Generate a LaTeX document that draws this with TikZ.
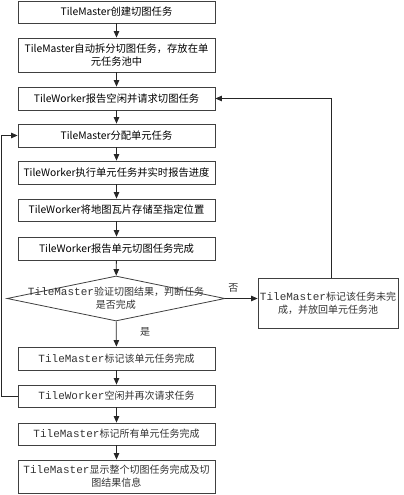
\documentclass[tikz,border=0pt]{standalone}
\usepackage{fontspec}
\newfontfamily\cjk{Noto Sans CJK SC}
\newfontfamily\lmono{Liberation Mono}
\usetikzlibrary{arrows.meta,shapes.geometric}
\tikzset{
  box/.style={draw=black!75, line width=0.8pt, minimum width=197pt, inner sep=1pt, align=center, font=\cjk\fontsize{10.3}{13}\selectfont},
  sbox/.style={box, text=black!80, font=\cjk\fontsize{10}{13}\selectfont},
  conn/.style={draw=black!85, line width=0.8pt, -{Triangle[length=6.5pt,width=5.5pt]}},
  lab/.style={font=\cjk\fontsize{10}{13}\selectfont, text=black!80}
}
\newcommand{\tm}[1]{{\lmono\fontsize{11}{13}\selectfont #1}}
\begin{document}
\begin{tikzpicture}[x=1pt,y=-1pt]
\useasboundingbox (0,0) rectangle (404,495);
\node[box, minimum height=22pt] (b1) at (116.5,12) {TileMaster创建切图任务};
\node[box, minimum height=34pt] (b2) at (116.5,55) {TileMaster自动拆分切图任务，存放在单\\元任务池中};
\node[box, minimum height=23pt] (b3) at (116.5,98.5) {TileWorker报告空闲并请求切图任务};
\node[box, minimum height=23pt] (b4) at (116.5,135.5) {TileMaster分配单元任务};
\node[box, minimum height=23pt] (b5) at (116.5,172.5) {TileWorker执行单元任务并实时报告进度};
\node[box, minimum height=22pt] (b6) at (116.5,210) {TileWorker将地图瓦片存储至指定位置};
\node[box, minimum height=23pt] (b7) at (116.5,248.5) {TileWorker报告单元切图任务完成};
\node[draw=black!75, line width=0.8pt, diamond, minimum width=218pt, minimum height=45pt, inner sep=0pt] (d) at (116,298.5) {};
\node[lab, align=center] (dt) at (d.center) {\tm{TileMaster}验证切图结果，判断任务\\是否完成};
\node[sbox, minimum height=23pt] (b8) at (116.5,358.5) {\tm{TileMaster}标记该单元任务完成};
\node[sbox, minimum height=22pt] (b9) at (116.5,396) {\tm{TileWorker}空闲并再次请求任务};
\node[sbox, minimum height=22pt] (b10) at (116.5,434) {\tm{TileMaster}标记所有单元任务完成};
\node[sbox, minimum height=33pt] (b11) at (116.5,476.5) {\tm{TileMaster}显示整个切图任务完成及切\\图结果信息};
\node[sbox, minimum width=140pt, minimum height=50pt] (r) at (328,303) {\tm{TileMaster}标记该任务未完\\成，并放回单元任务池};
\draw[conn] (b1) -- (b2);
\draw[conn] (b2) -- (b3);
\draw[conn] (b3) -- (b4);
\draw[conn] (b4) -- (b5);
\draw[conn] (b5) -- (b6);
\draw[conn] (b6) -- (b7);
\draw[conn] (b7) -- (d);
\draw[conn] (d) -- node[lab, right=20pt, pos=0.4] {是} (b8);
\draw[conn] (b8) -- (b9);
\draw[conn] (b9) -- (b10);
\draw[conn] (b10) -- (b11);
\draw[conn] (d.east) -- node[lab, above=2pt, pos=0.25] {否} (d.east -| r.west);
\draw[conn] ([xshift=3pt]r.north) |- (b3.east);
\draw[conn] (b9.west) -- ++(-16,0) |- (b4.west);
\end{tikzpicture}
\end{document}
